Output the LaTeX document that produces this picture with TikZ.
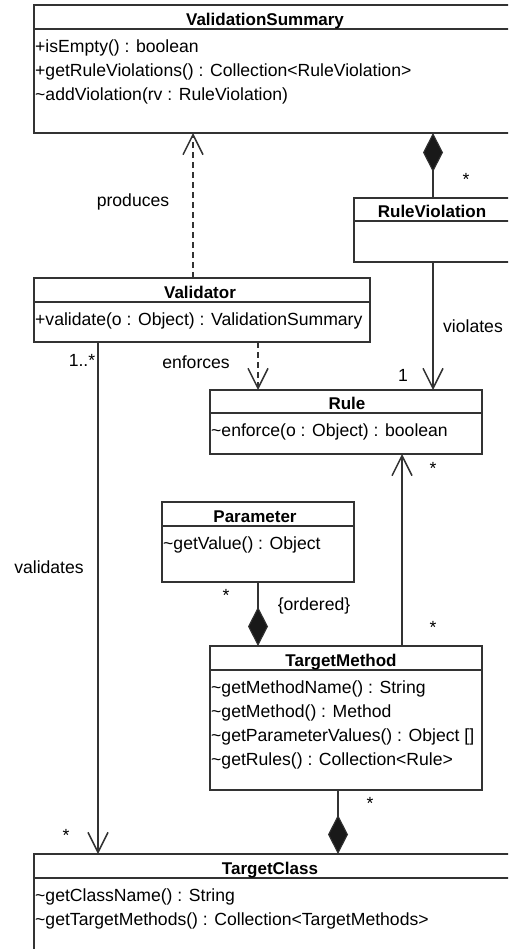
\documentclass[tikz,border=0pt]{standalone}
\usepackage{fontspec}
\setmainfont{Liberation Sans}
\usetikzlibrary{arrows.meta, positioning}

\definecolor{umlgray}{gray}{0.2}

\begin{document}
\begin{tikzpicture}[x=1pt, y=-1pt,
  font=\fontsize{17.6}{20}\selectfont,
  umlclass/.style={draw=umlgray, line width=1.5pt, rectangle, anchor=north west,
                   inner sep=0pt, outer sep=0pt},
  classname/.style={font=\fontsize{17}{20}\selectfont\bfseries, anchor=base, inner sep=0pt},
  member/.style={anchor=base west, inner sep=0pt},
  lbl/.style={anchor=base, inner sep=0pt},
  mult/.style={inner sep=0pt},
  umlline/.style={draw=umlgray, line width=1.5pt},
  assoc/.style={umlline, -{Straight Barb[length=20pt, width=20pt]}},
  dep/.style={assoc, dash pattern=on 6pt off 4pt},
  compose/.style={umlline, -{Diamond[length=39pt, width=20pt, line width=1pt,
                                     color=umlgray, fill=black!90]}}
]
  \path[use as bounding box, clip] (0,0) rectangle (508,949);

  % class boxes
  \node[umlclass, minimum width=486, minimum height=128] (vsum) at (34,5) {};
  \node[umlclass, minimum width=166, minimum height=64] (rviol) at (354,198) {};
  \node[umlclass, minimum width=336, minimum height=64] (validator) at (34,278) {};
  \node[umlclass, minimum width=272, minimum height=64] (rule) at (210,390) {};
  \node[umlclass, minimum width=192, minimum height=80] (param) at (162,502) {};
  \node[umlclass, minimum width=272, minimum height=144] (tmeth) at (210,646) {};
  \node[umlclass, minimum width=486, minimum height=120] (tclass) at (34,854) {};

  % compartments
  \foreach \n/\y in {vsum/29, rviol/221, validator/302, rule/413,
                     param/526, tmeth/670, tclass/878}
    \draw[umlline] (\n.west |- 0,\y) -- (\n.east |- 0,\y);

  % class names
  \node[classname] (vsumname) at (265,25.5) {ValidationSummary};
  \node[classname] (rviolname) at (432,217.5) {RuleViolation};
  \node[classname] (validatorname) at (200,298.5) {Validator};
  \node[classname] (rulename) at (347,409.5) {Rule};
  \node[classname] (paramname) at (255,522.5) {Parameter};
  \node[classname] (tmethname) at (341,666.5) {TargetMethod};
  \node[classname] (tclassname) at (270,874.5) {TargetClass};

  % operations
  \node[member] (vsumop1) at (35,52.5) {+isEmpty() : boolean};
  \node[member] (vsumop2) at (35,76.5) {+getRuleViolations() : Collection<RuleViolation>};
  \node[member] (vsumop3) at (35,100.5) {\textasciitilde addViolation(rv : RuleViolation)};
  \node[member] (validatorop1) at (35,325.5) {+validate(o : Object) : ValidationSummary};
  \node[member] (ruleop1) at (211,436.5) {\textasciitilde enforce(o : Object) : boolean};
  \node[member] (paramop1) at (163,549.5) {\textasciitilde getValue() : Object};
  \node[member] (tmethop1) at (211,693.5) {\textasciitilde getMethodName() : String};
  \node[member] (tmethop2) at (211,717.5) {\textasciitilde getMethod() : Method};
  \node[member] (tmethop3) at (211,741.5) {\textasciitilde getParameterValues() : Object []};
  \node[member] (tmethop4) at (211,765.5) {\textasciitilde getRules() : Collection<Rule>};
  \node[member] (tclassop1) at (35,901.5) {\textasciitilde getClassName() : String};
  \node[member] (tclassop2) at (35,925.5) {\textasciitilde getTargetMethods() : Collection<TargetMethods>};

  % relations
  \draw[dep] (validator.north -| 193,0) -- (vsum.south -| 193,0);
  \draw[compose] (rviol.north -| 433,0) -- (vsum.south -| 433,0);
  \draw[assoc] (rviol.south -| 433,0) -- (rule.north -| 433,0);
  \draw[dep] (validator.south -| 258,0) -- (rule.north -| 258,0);
  \draw[assoc] (validator.south -| 98,0) -- (tclass.north -| 98,0);
  \draw[assoc] (tmeth.north -| 402,0) -- (rule.south -| 402,0);
  \draw[compose] (param.south -| 258,0) -- (tmeth.north -| 258,0);
  \draw[compose] (tmeth.south -| 338,0) -- (tclass.north -| 338,0);

  % labels and multiplicities
  \node[lbl] (produces) at (133,207) {produces};
  \node[lbl] (enforces) at (196,368) {enforces};
  \node[lbl] (violates) at (473,332) {violates};
  \node[lbl] (validates) at (49,573) {validates};
  \node[lbl] (ordered) at (314,610) {\{ordered\}};
  \node[lbl] (mvalidator) at (82,366) {1..*};
  \node[lbl] (mrule) at (403,381) {1};
  \node[mult] (mrviol) at (466,179) {*};
  \node[mult] (mrulebot) at (433,468) {*};
  \node[mult] (mtmethtop) at (433,627) {*};
  \node[mult] (mparam) at (226,595) {*};
  \node[mult] (mtmethbot) at (370,803) {*};
  \node[mult] (mtclass) at (66,835) {*};
\end{tikzpicture}
\end{document}
